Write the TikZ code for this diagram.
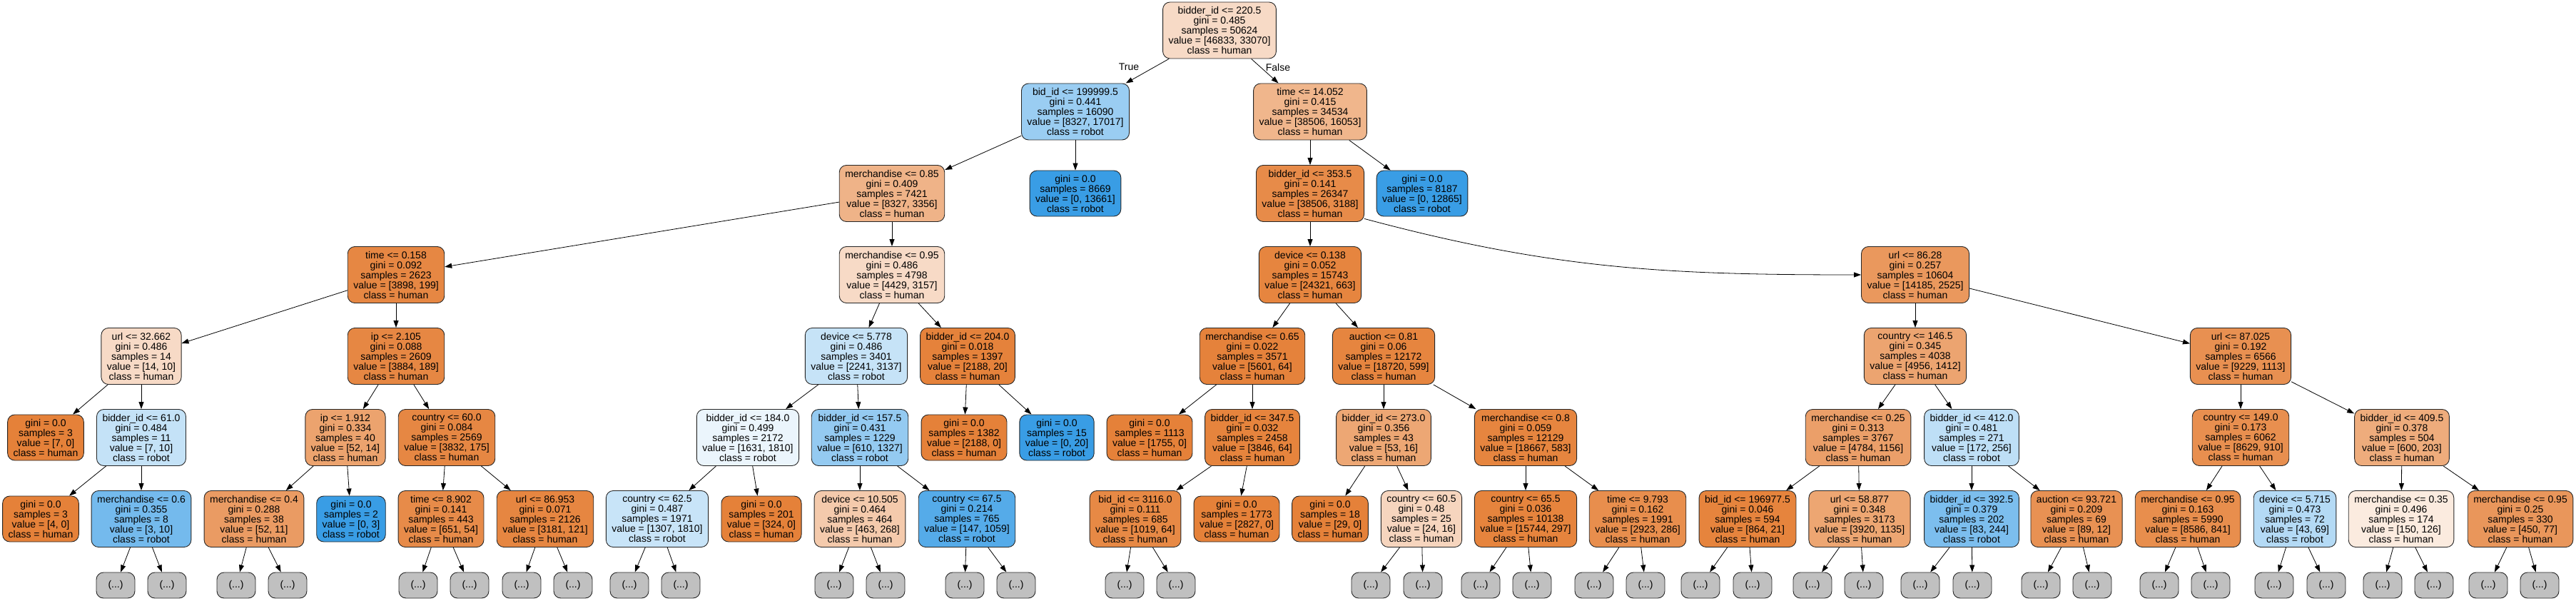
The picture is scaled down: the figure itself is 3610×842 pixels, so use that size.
\documentclass[tikz,border=0pt]{standalone}
\usepackage{fontspec}
\newfontfamily\treefont{Liberation Sans}
\usetikzlibrary{arrows.meta}
\definecolor{human}{RGB}{229,129,57}
\definecolor{robot}{RGB}{57,157,229}
\definecolor{dotgray}{RGB}{192,192,192}
\newcommand\treefs{\treefont\fontsize{14}{14}\selectfont}
\tikzset{
  tn/.style={draw=black!85, line width=0.9pt, rounded corners=10pt, align=center, font=\treefs,
             inner xsep=8pt, inner ysep=0pt, minimum height=79pt, minimum width=54pt},
  lf/.style={tn, minimum height=64pt},
  hn/.style={tn, fill=human!#1!white},
  rn/.style={tn, fill=robot!#1!white},
  hl/.style={lf, fill=human},
  rl/.style={lf, fill=robot},
  dotn/.style={tn, fill=dotgray, minimum height=36pt, minimum width=54pt, inner xsep=0pt},
  arr/.style={-{Triangle[length=10pt,width=7pt]}, line width=0.8pt},
  lbl/.style={font=\treefs, inner sep=0pt}
}
\begin{document}
\begin{tikzpicture}[x=1pt,y=-1pt]
\useasboundingbox (0,0) rectangle (3610,842);
% level 0
\node[hn=29] (n0) at (1709,42.5) {bidder\_id <= 220.5\\gini = 0.485\\samples = 50624\\value = [46833, 33070]\\class = human};
% level 1
\node[rn=51] (n1) at (1507,156.5) {bid\_id <= 199999.5\\gini = 0.441\\samples = 16090\\value = [8327, 17017]\\class = robot};
\node[hn=58] (n2) at (1836,156.5) {time <= 14.052\\gini = 0.415\\samples = 34534\\value = [38506, 16053]\\class = human};
% level 2
\node[hn=60] (n3) at (1250,271) {merchandise <= 0.85\\gini = 0.409\\samples = 7421\\value = [8327, 3356]\\class = human};
\node[rl] (n4) at (1507,271) {gini = 0.0\\samples = 8669\\value = [0, 13661]\\class = robot};
\node[hn=92] (n5) at (1836,271) {bidder\_id <= 353.5\\gini = 0.141\\samples = 26347\\value = [38506, 3188]\\class = human};
\node[rl] (n6) at (1993,271) {gini = 0.0\\samples = 8187\\value = [0, 12865]\\class = robot};
% level 3
\node[hn=95] (n7) at (555,385) {time <= 0.158\\gini = 0.092\\samples = 2623\\value = [3898, 199]\\class = human};
\node[hn=29] (n8) at (1250,385) {merchandise <= 0.95\\gini = 0.486\\samples = 4798\\value = [4429, 3157]\\class = human};
\node[hn=97] (n9) at (1836,385) {device <= 0.138\\gini = 0.052\\samples = 15743\\value = [24321, 663]\\class = human};
\node[hn=82] (n10) at (2684,385) {url <= 86.28\\gini = 0.257\\samples = 10604\\value = [14185, 2525]\\class = human};
% level 4
\node[hn=29] (n11) at (198,499) {url <= 32.662\\gini = 0.486\\samples = 14\\value = [14, 10]\\class = human};
\node[hn=95] (n12) at (555,499) {ip <= 2.105\\gini = 0.088\\samples = 2609\\value = [3884, 189]\\class = human};
\node[rn=29] (n13) at (1200,499) {device <= 5.778\\gini = 0.486\\samples = 3401\\value = [2241, 3137]\\class = robot};
\node[hn=99] (n14) at (1356,499) {bidder\_id <= 204.0\\gini = 0.018\\samples = 1397\\value = [2188, 20]\\class = human};
\node[hn=99] (n15) at (1755,499) {merchandise <= 0.65\\gini = 0.022\\samples = 3571\\value = [5601, 64]\\class = human};
\node[hn=97] (n16) at (1939,499) {auction <= 0.81\\gini = 0.06\\samples = 12172\\value = [18720, 599]\\class = human};
\node[hn=72] (n17) at (2684,499) {country <= 146.5\\gini = 0.345\\samples = 4038\\value = [4956, 1412]\\class = human};
\node[hn=88] (n18) at (3140,499) {url <= 87.025\\gini = 0.192\\samples = 6566\\value = [9229, 1113]\\class = human};
% level 5
\node[hl] (n19) at (64,613) {gini = 0.0\\samples = 3\\value = [7, 0]\\class = human};
\node[rn=30] (n20) at (198,613) {bidder\_id <= 61.0\\gini = 0.484\\samples = 11\\value = [7, 10]\\class = robot};
\node[hn=73] (n21) at (484,613) {ip <= 1.912\\gini = 0.334\\samples = 40\\value = [52, 14]\\class = human};
\node[hn=95] (n22) at (626,613) {country <= 60.0\\gini = 0.084\\samples = 2569\\value = [3832, 175]\\class = human};
\node[rn=10] (n23) at (1048,613) {bidder\_id <= 184.0\\gini = 0.499\\samples = 2172\\value = [1631, 1810]\\class = robot};
\node[rn=54] (n24) at (1205,613) {bidder\_id <= 157.5\\gini = 0.431\\samples = 1229\\value = [610, 1327]\\class = robot};
\node[hl] (n25) at (1351,613) {gini = 0.0\\samples = 1382\\value = [2188, 0]\\class = human};
\node[rl] (n26) at (1481,613) {gini = 0.0\\samples = 15\\value = [0, 20]\\class = robot};
\node[hl] (n27) at (1611,613) {gini = 0.0\\samples = 1113\\value = [1755, 0]\\class = human};
\node[hn=98] (n28) at (1755,613) {bidder\_id <= 347.5\\gini = 0.032\\samples = 2458\\value = [3846, 64]\\class = human};
\node[hn=70] (n29) at (1939,613) {bidder\_id <= 273.0\\gini = 0.356\\samples = 43\\value = [53, 16]\\class = human};
\node[hn=97] (n30) at (2138,613) {merchandise <= 0.8\\gini = 0.059\\samples = 12129\\value = [18667, 583]\\class = human};
\node[hn=76] (n31) at (2604,613) {merchandise <= 0.25\\gini = 0.313\\samples = 3767\\value = [4784, 1156]\\class = human};
\node[rn=33] (n32) at (2763,613) {bidder\_id <= 412.0\\gini = 0.481\\samples = 271\\value = [172, 256]\\class = robot};
\node[hn=89] (n33) at (3140,613) {country <= 149.0\\gini = 0.173\\samples = 6062\\value = [8629, 910]\\class = human};
\node[hn=66] (n34) at (3366,613) {bidder\_id <= 409.5\\gini = 0.378\\samples = 504\\value = [600, 203]\\class = human};
% level 6
\node[hl] (n35) at (57,727) {gini = 0.0\\samples = 3\\value = [4, 0]\\class = human};
\node[rn=70] (n36) at (198,727) {merchandise <= 0.6\\gini = 0.355\\samples = 8\\value = [3, 10]\\class = robot};
\node[hn=79] (n37) at (356,727) {merchandise <= 0.4\\gini = 0.288\\samples = 38\\value = [52, 11]\\class = human};
\node[rl] (n38) at (492,727) {gini = 0.0\\samples = 2\\value = [0, 3]\\class = robot};
\node[hn=92] (n39) at (618,727) {time <= 8.902\\gini = 0.141\\samples = 443\\value = [651, 54]\\class = human};
\node[hn=96] (n40) at (764,727) {url <= 86.953\\gini = 0.071\\samples = 2126\\value = [3181, 121]\\class = human};
\node[rn=28] (n41) at (921,727) {country <= 62.5\\gini = 0.487\\samples = 1971\\value = [1307, 1810]\\class = robot};
\node[hl] (n42) at (1067,727) {gini = 0.0\\samples = 201\\value = [324, 0]\\class = human};
\node[hn=42] (n43) at (1205,727) {device <= 10.505\\gini = 0.464\\samples = 464\\value = [463, 268]\\class = human};
\node[rn=86] (n44) at (1355,727) {country <= 67.5\\gini = 0.214\\samples = 765\\value = [147, 1059]\\class = robot};
\node[hn=94] (n45) at (1591,727) {bid\_id <= 3116.0\\gini = 0.111\\samples = 685\\value = [1019, 64]\\class = human};
\node[hl] (n46) at (1733,727) {gini = 0.0\\samples = 1773\\value = [2827, 0]\\class = human};
\node[hl] (n47) at (1864,727) {gini = 0.0\\samples = 18\\value = [29, 0]\\class = human};
\node[hn=33] (n48) at (1992,727) {country <= 60.5\\gini = 0.48\\samples = 25\\value = [24, 16]\\class = human};
\node[hn=98] (n49) at (2138,727) {country <= 65.5\\gini = 0.036\\samples = 10138\\value = [15744, 297]\\class = human};
\node[hn=90] (n50) at (2295,727) {time <= 9.793\\gini = 0.162\\samples = 1991\\value = [2923, 286]\\class = human};
\node[hn=98] (n51) at (2449,727) {bid\_id <= 196977.5\\gini = 0.046\\samples = 594\\value = [864, 21]\\class = human};
\node[hn=71] (n52) at (2606,727) {url <= 58.877\\gini = 0.348\\samples = 3173\\value = [3920, 1135]\\class = human};
\node[rn=66] (n53) at (2763,727) {bidder\_id <= 392.5\\gini = 0.379\\samples = 202\\value = [83, 244]\\class = robot};
\node[hn=87] (n54) at (2910,727) {auction <= 93.721\\gini = 0.209\\samples = 69\\value = [89, 12]\\class = human};
\node[hn=90] (n55) at (3066,727) {merchandise <= 0.95\\gini = 0.163\\samples = 5990\\value = [8586, 841]\\class = human};
\node[rn=38] (n56) at (3216,727) {device <= 5.715\\gini = 0.473\\samples = 72\\value = [43, 69]\\class = robot};
\node[hn=16] (n57) at (3365,727) {merchandise <= 0.35\\gini = 0.496\\samples = 174\\value = [150, 126]\\class = human};
\node[hn=83] (n58) at (3532,727) {merchandise <= 0.95\\gini = 0.25\\samples = 330\\value = [450, 77]\\class = human};
% edge labels
\node[lbl] (tl) at (1582,94) {True};
\node[lbl] (fl) at (1791,94) {False};
% edges
\foreach \a/\b in {0/1,0/2,1/3,1/4,2/5,2/6,3/7,3/8,5/9,
  7/11,7/12,8/13,8/14,9/15,9/16,10/17,10/18,
  11/19,11/20,12/21,12/22,13/23,13/24,14/25,14/26,15/27,15/28,16/29,16/30,17/31,17/32,18/33,18/34,
  20/35,20/36,21/37,21/38,22/39,22/40,23/41,23/42,24/43,24/44,28/45,28/46,29/47,29/48,30/49,30/50,
  31/51,31/52,32/53,32/54,33/55,33/56,34/57,34/58}
  {\draw[arr] (n\a) -- (n\b);}
\draw[arr] (n5.-25) to[out=-15,in=180] (n10.west);
% truncated subtrees
\foreach \p/\a/\b in {36/162/234,37/331/403,39/586/658,40/731/803,41/882/954,43/1169/1241,
  44/1352/1424,45/1576/1648,48/1921/1994,49/2075/2147,50/2234/2306,51/2383/2456,52/2540/2612,
  53/2691/2764,54/2860/2932,55/3026/3098,56/3187/3260,57/3339/3411,58/3487/3559}
  {\node[dotn] (d\p a) at (\a,820) {(...)};
   \node[dotn] (d\p b) at (\b,820) {(...)};
   \draw[arr] (n\p) -- (d\p a);
   \draw[arr] (n\p) -- (d\p b);}
\end{tikzpicture}
\end{document}
